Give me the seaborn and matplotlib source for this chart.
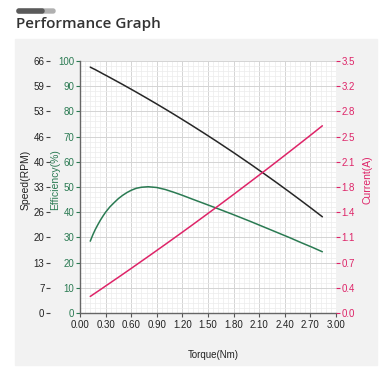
import numpy as np
import pandas as pd
import seaborn as sns
import matplotlib.pyplot as plt
from matplotlib.patches import Rectangle, FancyBboxPatch
from matplotlib.ticker import MultipleLocator

torque = [0.12, 0.15, 0.18, 0.21, 0.24, 0.27, 0.30, 0.35, 0.40, 0.45, 0.50, 0.55, 0.60,
          0.66, 0.72, 0.80, 0.90, 1.00, 1.10, 1.20, 1.30, 1.45, 1.60, 1.80, 2.00, 2.15,
          2.30, 2.45, 2.60, 2.72, 2.84]
speed = [64.40, 64.05, 63.73, 63.36, 63.01, 62.63, 62.28, 61.68, 61.07, 60.46, 59.85,
         59.22, 58.60, 57.84, 57.07, 56.04, 54.73, 53.40, 52.05, 50.67, 49.28, 47.15,
         44.98, 42.01, 38.95, 36.60, 34.21, 31.77, 29.28, 27.26, 25.20]
efficiency = [28.5, 31.0, 33.2, 35.1, 36.9, 38.5, 40.0, 42.1, 43.8, 45.4, 46.7, 47.8,
              48.7, 49.5, 49.9, 50.1, 49.8, 49.0, 47.9, 46.7, 45.4, 43.5, 41.6, 39.0,
              36.3, 34.2, 32.1, 30.0, 27.8, 26.1, 24.3]
current = [0.230, 0.254, 0.278, 0.302, 0.326, 0.350, 0.375, 0.415, 0.456, 0.496, 0.537,
           0.578, 0.619, 0.669, 0.719, 0.785, 0.869, 0.953, 1.038, 1.123, 1.209, 1.339,
           1.470, 1.647, 1.826, 1.961, 2.098, 2.236, 2.375, 2.487, 2.600]

x_ticks = [0.0, 0.3, 0.6, 0.9, 1.2, 1.5, 1.8, 2.1, 2.4, 2.7, 3.0]
x_labels = ['0.00', '0.30', '0.60', '0.90', '1.20', '1.50', '1.80', '2.10', '2.40', '2.70', '3.00']
eff_ticks = [0, 10, 20, 30, 40, 50, 60, 70, 80, 90, 100]
speed_labels = ['0', '7', '13', '20', '26', '33', '40', '46', '53', '59', '66']
current_labels = ['0.0', '0.4', '0.7', '1.1', '1.4', '1.8', '2.1', '2.5', '2.8', '3.2', '3.5']

df = pd.DataFrame({'torque': torque, 'speed': speed,
                   'efficiency': efficiency, 'current': current})

sns.set_style('white')
plt.rcParams['font.family'] = ['Liberation Sans', 'DejaVu Sans']

GREEN = '#2a7a52'
RED = '#de2468'
BLACK = '#262626'
W, H = 391, 383

fig = plt.figure(figsize=(W / 100, H / 100), dpi=100)
fig.patch.set_facecolor('white')

# grey panel + header
fig.add_artist(Rectangle((15 / W, 1 - 365 / H), 362 / W, 326 / H,
                         transform=fig.transFigure, color='#f2f2f2', zorder=0))
fig.add_artist(FancyBboxPatch((17 / W, 1 - 13 / H), 38 / W, 4 / H,
                              boxstyle='round,pad=0,rounding_size=0.005',
                              transform=fig.transFigure, color='#b0b0b0', zorder=1))
fig.add_artist(FancyBboxPatch((17 / W, 1 - 13 / H), 27 / W, 4 / H,
                              boxstyle='round,pad=0,rounding_size=0.005',
                              transform=fig.transFigure, color='#5a5a5a', zorder=2))
fig.text(16 / W, 1 - 24 / H, 'Performance Graph', fontsize=11, color='#333333',
         family=['Open Sans', 'DejaVu Sans'], weight='semibold', va='center', ha='left')

ax = fig.add_axes([80 / W, 70 / H, 256 / W, 252 / H])
ax.set_facecolor('white')

sns.lineplot(data=df, x='torque', y='efficiency', ax=ax, color=GREEN, lw=1.1)
ax.set_xlim(0, 3)
ax.set_ylim(0, 100)
ax.set_xticks(x_ticks)
ax.set_xticklabels(x_labels)
ax.set_yticks(eff_ticks)
ax.xaxis.set_minor_locator(MultipleLocator(0.06))
ax.yaxis.set_minor_locator(MultipleLocator(2))
ax.grid(True, which='major', color='#d4d4d4', lw=0.7)
ax.grid(True, which='minor', color='#ececec', lw=0.5)
ax.set_axisbelow(True)
ax.tick_params(axis='y', which='major', length=3, width=0.8, color=GREEN,
               labelcolor=GREEN, labelsize=7, pad=1, left=True)
ax.tick_params(axis='x', which='major', length=3, width=0.8, color='#555555',
               labelcolor='#222222', labelsize=7, pad=2, bottom=True)
ax.tick_params(which='minor', length=0)
for s in ['top', 'right']:
    ax.spines[s].set_visible(False)
for s in ['left', 'bottom']:
    ax.spines[s].set_color('#666666')
    ax.spines[s].set_linewidth(1.0)
ax.set_xlabel('Torque(Nm)', fontsize=7, color='#222222')
ax.xaxis.set_label_coords(0.52, -0.145)
ax.set_ylabel('Efficiency(%)', fontsize=7.5, color=GREEN)
ax.yaxis.set_label_coords(-0.078, 0.53)

# speed axis, offset on the left
ax_s = ax.twinx()
sns.lineplot(data=df, x='torque', y='speed', ax=ax_s, color=BLACK, lw=1.1)
ax_s.set_ylim(0, 66)
ax_s.set_yticks([v * 0.66 for v in eff_ticks])
ax_s.set_yticklabels(speed_labels)
ax_s.yaxis.set_ticks_position('left')
ax_s.yaxis.set_label_position('left')
ax_s.spines['left'].set_position(('outward', 30 * 0.72))
for s in ax_s.spines.values():
    s.set_visible(False)
ax_s.tick_params(axis='y', length=3, width=0.8, color='#444444',
                 labelcolor='#222222', labelsize=7, pad=1)
ax_s.set_ylabel('Speed(RPM)', fontsize=7.5, color='#222222')
ax_s.yaxis.set_label_coords(-0.195, 0.53)
ax_s.set_xlabel('')

# current axis on the right
ax_c = ax.twinx()
sns.lineplot(data=df, x='torque', y='current', ax=ax_c, color=RED, lw=1.1)
ax_c.set_ylim(0, 3.5)
ax_c.set_yticks([v * 0.035 for v in eff_ticks])
ax_c.set_yticklabels(current_labels)
for s in ax_c.spines.values():
    s.set_visible(False)
ax_c.tick_params(axis='y', length=3, width=0.8, color=RED,
                 labelcolor=RED, labelsize=7, pad=1)
ax_c.set_ylabel('Current(A)', fontsize=7.5, color=RED)
ax_c.yaxis.set_label_coords(1.105, 0.53)
ax_c.set_xlabel('')

ax.set_xlim(0, 3)
fig.savefig('out.png', dpi=100)
